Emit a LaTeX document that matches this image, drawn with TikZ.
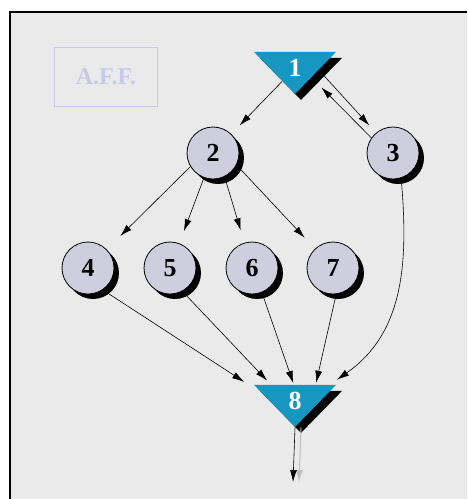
\documentclass[tikz,border=0pt]{standalone}
\usepackage{fontspec}
\setmainfont{Liberation Serif}
\usetikzlibrary{%
	arrows.meta,%
	shapes.geometric,%
	shadows
}
\definecolor{paper}{RGB}{234,234,234}
\definecolor{lavgrey}{RGB}{206,206,222}
\definecolor{gateblue}{RGB}{22,150,192}
\definecolor{affblue}{RGB}{200,200,236}

\begin{document}
\begin{tikzpicture}[x=1pt,y=-1pt,>={Latex[length=12pt,width=7pt]},
	line width=0.6pt,
	state/.style={circle,draw=black,line width=0.8pt,fill=lavgrey,
		minimum size=52pt,inner sep=0pt,font=\fontsize{26}{26}\selectfont\bfseries,
		drop shadow={shadow xshift=5pt,shadow yshift=-5pt,fill=black,opacity=1}},
	gate/.style={isosceles triangle,isosceles triangle stretches,
		shape border rotate=270,minimum width=82pt,minimum height=42pt,
		inner sep=0pt,fill=gateblue,text=white,
		font=\fontsize{26}{26}\selectfont\bfseries,
		drop shadow={shadow xshift=6pt,shadow yshift=-6pt,fill=black,opacity=1}}]
	% Paper
	\useasboundingbox (0,0) rectangle (467,499);
	\fill[paper] (10,12) rectangle (467,499);
	\draw[line width=1.2pt] (10,499) -- (10,12) -- (467,12);
	
	% Stamp
	\node[draw=affblue,line width=0.8pt,text=affblue,minimum width=103pt,
		minimum height=59pt,font=\fontsize{24}{24}\selectfont\bfseries] (aff) at (106,77) {A.F.F.};
	
	% Vertices
	\node[gate] (n1) at (295,68) {1};
	\node[state] (n2) at (213,153) {2};
	\node[state] (n3) at (393,153) {3};
	\node[state] (n4) at (88,268) {4};
	\node[state] (n5) at (170,268) {5};
	\node[state] (n6) at (252,268) {6};
	\node[state] (n7) at (333,268) {7};
	\node[gate] (n8) at (295,401) {8};
	\coordinate (out) at (293,482);
	
	% Edges
	\draw[->,shorten >=12pt] (n1) -- (n2);
	\draw[->,shorten >=10pt] (n1.-5) -- (n3.130);
	\draw[->,shorten >=14pt] (n3.145) -- (n1.-30);
	\foreach \t/\a/\d in {4/211/19,5/-110/13,6/-64/13,7/-27/15}
	\draw[->,shorten >=\d pt] (n2.\a) -- (n\t);
	\foreach \s/\a/\d in {4/-56/75,5/-62/58,6/-68/42,7/-83/41}
	\draw[->,shorten >=\d pt] (n\s.\a) -- ([shift={(12,-5)}]n8.apex);
	\draw[->] (n3.-72) to[out=-85,in=35] ([shift={(42,-48)}]n8.apex);
	\draw[->,black!25,line width=1pt,transform canvas={xshift=6pt}] (n8.apex) -- (out);
	\draw[->] (n8.apex) -- (out);
\end{tikzpicture}
\end{document}
